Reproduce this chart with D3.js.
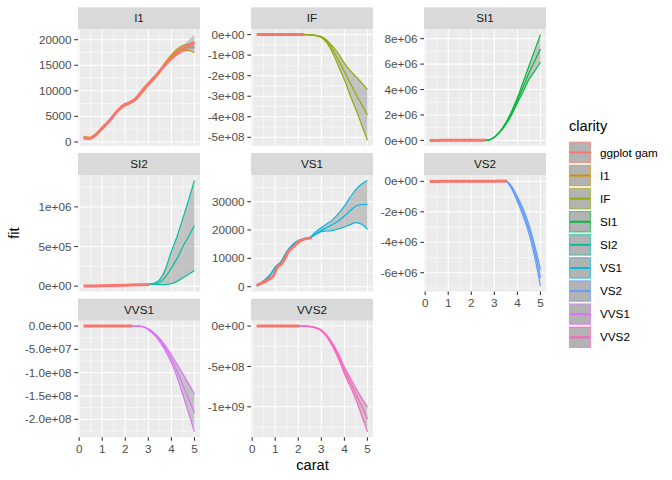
<!DOCTYPE html>
<html><head><meta charset="utf-8">
<script src="https://cdn.jsdelivr.net/npm/d3@7"></script>
<style>
body{margin:0;background:#fff}
svg{display:block}
text{font-family:"Liberation Sans",Arial,Helvetica,sans-serif}
</style>
</head><body>
<svg id="chart" width="672" height="480"></svg>
<script>
// ---------------- DATA ----------------
const clarities = ["I1","IF","SI1","SI2","VS1","VS2","VVS1","VVS2"];
const legendLabels = ["ggplot gam","I1","IF","SI1","SI2","VS1","VS2","VVS1","VVS2"];
const legendColors = ["#F8766D","#D39200","#93AA00","#00BA38","#00C19F","#00B9E3","#619CFF","#DB72FB","#FF61C3"];
const xTicks = [0,1,2,3,4,5];

// common carat grid for the per-clarity predictions
const predX = [0.2,0.5,0.75,1,1.25,1.5,1.75,2,2.25,2.5,2.75,3,3.25,3.5,3.75,4,4.25,4.5,4.75,5];

// I1
const fitI1 = [900,750,1500,2700,3850,5200,6450,7250,7750,8500,9850,11150,12350,13800,15450,16800,17850,18400,18550,18500];
const loI1  = [750,600,1350,2550,3700,5050,6300,7100,7600,8350,9700,11000,12200,13650,15300,16550,17500,17900,17850,17500];
const hiI1  = [1050,900,1650,2850,4000,5350,6600,7400,7900,8650,10000,11300,12500,13950,15650,17050,18200,18850,19150,19400];
const gamXI1 = [0.2,0.3,0.4,0.5,0.7,0.9,1.1,1.3,1.5,1.7,1.9,2.1,2.3,2.5,2.7,2.9,3.1,3.3,3.5,3.7,3.9,4.1,4.3,4.5,4.7,5.0];
const gamFitI1 = [800,700,650,760,1320,2250,3150,4100,5200,6250,7100,7500,7950,8700,9800,10900,11850,12780,13900,14950,15900,16750,17450,18100,18700,19500];
const gamLoI1  = [300,520,550,660,1220,2150,3050,4000,5100,6150,7000,7400,7850,8600,9700,10800,11750,12660,13750,14750,15620,16400,17000,17500,17900,18200];
const gamHiI1  = [1300,880,750,860,1420,2350,3250,4200,5300,6350,7200,7600,8050,8800,9900,11000,11950,12900,14050,15150,16180,17100,17900,18800,19700,21000];

// IF
const fitIF = [300,1500,3000,4500,6000,7500,8500,9500,10000,-1e6,-4e6,-1.2e7,-3.5e7,-7.5e7,-1.25e8,-1.8e8,-2.35e8,-2.9e8,-3.4e8,-3.9e8];
const loIF  = [100,1300,2800,4300,5800,7300,8300,9300,9800,-1.2e6,-5e6,-1.4e7,-4.2e7,-9.2e7,-1.55e8,-2.2e8,-2.95e8,-3.65e8,-4.4e8,-5.15e8];
const hiIF  = [500,1700,3200,4700,6200,7700,8700,9700,10200,-0.8e6,-3e6,-1.0e7,-2.8e7,-5.8e7,-9.5e7,-1.4e8,-1.75e8,-2.05e8,-2.35e8,-2.67e8];
const gamXIF = [0.2,0.7,1.2,1.7,2.27];
const gamFitIF = [500,2500,5500,9000,12000];
const gamLoIF  = [300,2300,5300,8800,11800];
const gamHiIF  = [700,2700,5700,9200,12200];

// SI1
const fitSI1 = [300,1500,3000,4500,6000,7500,8500,9500,10500,11500,3e4,2.5e5,7e5,1.32e6,2.15e6,3.15e6,4.2e6,5.3e6,6.25e6,7.18e6];
const loSI1  = [100,1300,2800,4300,5800,7300,8300,9300,10300,11300,2.8e4,2.4e5,6.7e5,1.25e6,2.0e6,2.95e6,3.85e6,4.8e6,5.45e6,6.15e6];
const hiSI1  = [500,1700,3200,4700,6200,7700,8700,9700,10700,11700,3.2e4,2.6e5,7.3e5,1.4e6,2.3e6,3.35e6,4.6e6,5.85e6,7.1e6,8.32e6];
const gamXSI1 = [0.2,0.8,1.4,2.0,2.61];
const gamFitSI1 = [400,3000,6500,10000,13000];
const gamLoSI1  = [200,2800,6300,9800,12800];
const gamHiSI1  = [600,3200,6700,10200,13200];

// SI2
const fitSI2 = [300,1300,2600,4500,6300,8000,10000,12000,14200,16500,18800,21000,3e4,5e4,1.2e5,2.3e5,3.5e5,5.0e5,6.3e5,7.65e5];
const loSI2  = [100,1100,2400,4300,6100,7800,9800,11800,14000,16300,18600,20000,2.5e4,2.0e4,2.0e4,3e4,6e4,1.05e5,1.5e5,1.98e5];
const hiSI2  = [500,1500,2800,4700,6500,8200,10200,12200,14400,16700,19000,22000,3.5e4,8.5e4,2.2e5,4.4e5,6.3e5,8.6e5,1.09e6,1.335e6];
const gamXSI2 = [0.2,0.6,1.0,1.5,2.0,2.5,3.04];
const gamFitSI2 = [300,2000,4500,8000,12000,16500,21000];
const gamLoSI2  = [100,1800,4300,7800,11800,16300,20500];
const gamHiSI2  = [500,2200,4700,8200,12200,16700,21500];

// VS1
const fitVS1 = [300,2000,3800,6800,8700,12300,14700,16200,16900,17300,18600,19870,20900,21990,23300,24920,26800,28450,29000,29050];
const loVS1  = [200,1850,3650,6650,8550,12150,14550,16050,16750,17200,18400,19400,19650,19870,20400,21040,21900,22590,22000,20230];
const hiVS1  = [400,2150,3950,6950,8850,12450,14850,16350,17050,17400,19300,20830,22200,23760,25900,28450,31500,34350,36200,37520];
const gamXVS1 = [0.19,0.45,0.71,0.93,1.04,1.14,1.29,1.43,1.58,1.79,2.01,2.23,2.44,2.59];
const gamFitVS1 = [460,1410,2580,3990,6100,7270,8220,10240,12570,14120,15740,16700,17050,17300];
const gamLoVS1  = [310,1260,2430,3840,5950,7120,8070,10090,12420,13970,15590,16550,16900,17100];
const gamHiVS1  = [610,1560,2730,4140,6250,7420,8370,10390,12720,14270,15890,16850,17200,17500];

// VS2
const fitVS2 = [300,1500,3000,4500,6000,7500,8500,9500,10500,11500,12500,2e4,5e4,2e4,-4.0e5,-1.17e6,-2.04e6,-3.14e6,-4.57e6,-6.33e6];
const loVS2  = [100,1300,2800,4300,5800,7300,8300,9300,10300,11300,12300,1.5e4,3e4,0,-4.8e5,-1.34e6,-2.28e6,-3.43e6,-4.95e6,-6.88e6];
const hiVS2  = [500,1700,3200,4700,6200,7700,8700,9700,10700,11700,12700,2.5e4,7e4,4e4,-3.2e5,-1.0e6,-1.8e6,-2.85e6,-4.2e6,-5.78e6];
const gamXVS2 = [0.2,1,2,3,3.55];
const gamFitVS2 = [300,5000,12000,17000,18000];
const gamLoVS2  = [100,4800,11800,16800,17800];
const gamHiVS2  = [500,5200,12200,17200,18200];

// VVS1
const fitVVS1 = [300,1500,3000,4500,6000,7500,8500,9500,10500,-2e5,-1e6,-7e6,-1.7e7,-3.0e7,-4.8e7,-7.0e7,-9.7e7,-1.27e8,-1.56e8,-1.86e8];
const loVVS1  = [100,1300,2800,4300,5800,7300,8300,9300,10300,-2.5e5,-1.2e6,-8e6,-1.9e7,-3.4e7,-5.4e7,-7.9e7,-1.1e8,-1.48e8,-1.87e8,-2.27e8];
const hiVVS1  = [500,1700,3200,4700,6200,7700,8700,9700,10700,-1.5e5,-8e5,-6e6,-1.5e7,-2.7e7,-4.3e7,-6.2e7,-8.2e7,-1.03e8,-1.24e8,-1.46e8];
const gamXVVS1 = [0.2,0.8,1.4,2.0,2.29];
const gamFitVVS1 = [400,3000,6500,10000,12000];
const gamLoVVS1  = [200,2800,6300,9800,11800];
const gamHiVVS1  = [600,3200,6700,10200,12200];

// VVS2
const fitVVS2 = [300,1500,3000,4500,6000,7500,8500,9500,-1e6,-5e6,-2e7,-5.5e7,-1.3e8,-2.4e8,-3.8e8,-5.5e8,-6.9e8,-8.4e8,-9.9e8,-1.15e9];
const loVVS2  = [100,1300,2800,4300,5800,7300,8300,9300,-1.2e6,-6e6,-2.3e7,-6e7,-1.4e8,-2.6e8,-4.1e8,-5.9e8,-7.45e8,-9.1e8,-1.11e9,-1.31e9];
const hiVVS2  = [500,1700,3200,4700,6200,7700,8700,9700,-0.8e6,-4e6,-1.7e7,-5e7,-1.2e8,-2.2e8,-3.5e8,-5.1e8,-6.4e8,-7.7e8,-8.9e8,-1.0e9];
const gamXVVS2 = [0.2,0.7,1.2,1.7,2.04];
const gamFitVVS2 = [400,2500,5500,8500,10500];
const gamLoVVS2  = [200,2300,5300,8300,10300];
const gamHiVVS2  = [600,2700,5700,8700,10700];

// y tick values and labels per panel
const yTicksI1 = [0,5000,10000,15000,20000];
const yLabelsI1 = ["0","5000","10000","15000","20000"];
const yTicksIF = [0,-1e8,-2e8,-3e8,-4e8,-5e8];
const yLabelsIF = ["0e+00","-1e+08","-2e+08","-3e+08","-4e+08","-5e+08"];
const yTicksSI1 = [0,2e6,4e6,6e6,8e6];
const yLabelsSI1 = ["0e+00","2e+06","4e+06","6e+06","8e+06"];
const yTicksSI2 = [0,5e5,1e6];
const yLabelsSI2 = ["0e+00","5e+05","1e+06"];
const yTicksVS1 = [0,10000,20000,30000];
const yLabelsVS1 = ["0","10000","20000","30000"];
const yTicksVS2 = [0,-2e6,-4e6,-6e6];
const yLabelsVS2 = ["0e+00","-2e+06","-4e+06","-6e+06"];
const yTicksVVS1 = [0,-5e7,-1e8,-1.5e8,-2e8];
const yLabelsVVS1 = ["0.0e+00","-5.0e+07","-1.0e+08","-1.5e+08","-2.0e+08"];
const yTicksVVS2 = [0,-5e8,-1e9];
const yLabelsVVS2 = ["0e+00","-5e+08","-1e+09"];

// ---------------- BUILD TABLE ----------------
const zip3 = (xs, f, lo, hi) => xs.map((x,i)=>({x, y:f[i], lo:lo[i], hi:hi[i]}));
const panels = [
  {name:"I1", pred:zip3(predX,fitI1,loI1,hiI1), gam:zip3(gamXI1,gamFitI1,gamLoI1,gamHiI1), ticks:yTicksI1, labels:yLabelsI1},
  {name:"IF", pred:zip3(predX,fitIF,loIF,hiIF), gam:zip3(gamXIF,gamFitIF,gamLoIF,gamHiIF), ticks:yTicksIF, labels:yLabelsIF},
  {name:"SI1", pred:zip3(predX,fitSI1,loSI1,hiSI1), gam:zip3(gamXSI1,gamFitSI1,gamLoSI1,gamHiSI1), ticks:yTicksSI1, labels:yLabelsSI1},
  {name:"SI2", pred:zip3(predX,fitSI2,loSI2,hiSI2), gam:zip3(gamXSI2,gamFitSI2,gamLoSI2,gamHiSI2), ticks:yTicksSI2, labels:yLabelsSI2},
  {name:"VS1", pred:zip3(predX,fitVS1,loVS1,hiVS1), gam:zip3(gamXVS1,gamFitVS1,gamLoVS1,gamHiVS1), ticks:yTicksVS1, labels:yLabelsVS1},
  {name:"VS2", pred:zip3(predX,fitVS2,loVS2,hiVS2), gam:zip3(gamXVS2,gamFitVS2,gamLoVS2,gamHiVS2), ticks:yTicksVS2, labels:yLabelsVS2},
  {name:"VVS1", pred:zip3(predX,fitVVS1,loVVS1,hiVVS1), gam:zip3(gamXVVS1,gamFitVVS1,gamLoVVS1,gamHiVVS1), ticks:yTicksVVS1, labels:yLabelsVVS1},
  {name:"VVS2", pred:zip3(predX,fitVVS2,loVVS2,hiVVS2), gam:zip3(gamXVVS2,gamFitVVS2,gamLoVVS2,gamHiVVS2), ticks:yTicksVVS2, labels:yLabelsVVS2}
];

// ---------------- LAYOUT ----------------
const svg = d3.select("#chart");
const panelW = 122, colPitch = 173, left0 = 78;
const stripH = 22, panelH = 116.4, rowPitch = 145.73, top0 = 7.3;
const tickLen = 3.67;
const fontSmall = 11.7, fontBig = 14.67;
const ribbonFill = "#999999", ribbonOpacity = 0.5;

// shared x scale domain with ggplot 5% expansion
const allX = panels.flatMap(p => p.pred.map(d=>d.x).concat(p.gam.map(d=>d.x)));
const xmin = d3.min(allX), xmax = d3.max(allX), xpad = (xmax-xmin)*0.05;

const curve = d3.curveMonotoneX;

panels.forEach((p, i) => {
  const col = i % 3, row = Math.floor(i/3);
  const L = left0 + col*colPitch;
  const T = top0 + row*rowPitch;
  const PT = T + stripH, PB = PT + panelH;
  const color = legendColors[clarities.indexOf(p.name) + 1];

  const x = d3.scaleLinear().domain([xmin - xpad, xmax + xpad]).range([L, L+panelW]);
  const allY = p.pred.flatMap(d=>[d.lo,d.hi,d.y]).concat(p.gam.flatMap(d=>[d.lo,d.hi,d.y]));
  const ymin = d3.min(allY), ymax = d3.max(allY), ypad = (ymax-ymin)*0.05;
  const y = d3.scaleLinear().domain([ymin-ypad, ymax+ypad]).range([PB, PT]);

  const g = svg.append("g");
  // strip
  g.append("rect").attr("x", L).attr("y", T).attr("width", panelW).attr("height", stripH).attr("fill", "#D9D9D9");
  g.append("text").attr("x", L + panelW/2).attr("y", T + stripH/2 + 4.1)
    .attr("text-anchor","middle").attr("font-size", fontSmall).attr("fill","#1A1A1A").text(p.name);
  // panel bg
  g.append("rect").attr("x", L).attr("y", PT).attr("width", panelW).attr("height", panelH).attr("fill", "#EBEBEB");

  // grid
  const yt = p.ticks.slice().sort((a,b)=>a-b);
  const ystep = yt[1]-yt[0];
  const yMinor = [];
  for (let k=-1;k<yt.length;k++){ const v = yt[0] + (k+0.5)*ystep; if (v>y.domain()[0] && v<y.domain()[1]) yMinor.push(v); }
  const xMinor = [];
  for (let k=-1;k<xTicks.length;k++){ const v = xTicks[0] + (k+0.5); if (v>x.domain()[0] && v<x.domain()[1]) xMinor.push(v); }
  const grid = g.append("g");
  yMinor.forEach(v => grid.append("line").attr("x1",L).attr("x2",L+panelW).attr("y1",y(v)).attr("y2",y(v)).attr("stroke","#fff").attr("stroke-width",0.53));
  xMinor.forEach(v => grid.append("line").attr("y1",PT).attr("y2",PB).attr("x1",x(v)).attr("x2",x(v)).attr("stroke","#fff").attr("stroke-width",0.53));
  p.ticks.forEach(v => grid.append("line").attr("x1",L).attr("x2",L+panelW).attr("y1",y(v)).attr("y2",y(v)).attr("stroke","#fff").attr("stroke-width",1.07));
  xTicks.forEach(v => grid.append("line").attr("y1",PT).attr("y2",PB).attr("x1",x(v)).attr("x2",x(v)).attr("stroke","#fff").attr("stroke-width",1.07));

  // clip
  const cid = "clip"+i;
  svg.append("clipPath").attr("id", cid).append("rect").attr("x",L).attr("y",PT).attr("width",panelW).attr("height",panelH);
  const data = g.append("g").attr("clip-path", `url(#${cid})`);

  const area = d3.area().x(d=>x(d.x)).y0(d=>y(d.lo)).y1(d=>y(d.hi)).curve(curve);
  const line = key => d3.line().x(d=>x(d.x)).y(d=>y(d[key])).curve(curve);

  // clarity prediction ribbon + lines
  data.append("path").attr("d", area(p.pred)).attr("fill", ribbonFill).attr("fill-opacity", ribbonOpacity);
  ["lo","hi","y"].forEach(k => data.append("path").attr("d", line(k)(p.pred)).attr("fill","none").attr("stroke", color).attr("stroke-width",1.2));
  // ggplot gam ribbon + line
  data.append("path").attr("d", area(p.gam)).attr("fill", ribbonFill).attr("fill-opacity", ribbonOpacity);
  data.append("path").attr("d", line("y")(p.gam)).attr("fill","none").attr("stroke", legendColors[0]).attr("stroke-width",3);

  // y axis
  const yAxis = g.append("g");
  p.ticks.forEach((v,k) => {
    yAxis.append("line").attr("x1",L-tickLen).attr("x2",L).attr("y1",y(v)).attr("y2",y(v)).attr("stroke","#333333").attr("stroke-width",1.07);
    yAxis.append("text").attr("x", L-tickLen-2.9).attr("y", y(v)+4.1).attr("text-anchor","end")
      .attr("font-size", fontSmall).attr("fill","#4D4D4D").text(p.labels[k]);
  });

  // x axis on bottom panels of each column
  const hasBelow = panels[i+3] !== undefined;
  if (!hasBelow) {
    const xAxis = g.append("g");
    xTicks.forEach(v => {
      xAxis.append("line").attr("x1",x(v)).attr("x2",x(v)).attr("y1",PB).attr("y2",PB+tickLen).attr("stroke","#333333").attr("stroke-width",1.07);
      xAxis.append("text").attr("x",x(v)).attr("y",PB+tickLen+2.9+9.2).attr("text-anchor","middle")
        .attr("font-size", fontSmall).attr("fill","#4D4D4D").text(v);
    });
  }
});

// axis titles
svg.append("text").attr("x", 312.5).attr("y", 469.5).attr("text-anchor","middle").attr("font-size", fontBig).attr("fill","#000").text("carat");
svg.append("text").attr("transform","translate(19,233) rotate(-90)").attr("text-anchor","middle").attr("font-size", fontBig).attr("fill","#000").text("fit");

// legend
const lg = svg.append("g");
lg.append("text").attr("x", 569).attr("y", 131).attr("font-size", fontBig).attr("fill","#000").text("clarity");
legendLabels.forEach((lab, k) => {
  const ky = 141.7 + k*23.1;
  lg.append("rect").attr("x",569.5).attr("y",ky+0.5).attr("width",21).attr("height",20.5).attr("fill","#F2F2F2");
  lg.append("rect").attr("x",569.5).attr("y",ky+0.5).attr("width",21).attr("height",20.5)
    .attr("fill","#999999").attr("fill-opacity",0.7).attr("stroke", legendColors[k]).attr("stroke-opacity",0.6).attr("stroke-width",1.2);
  lg.append("line").attr("x1",570).attr("x2",590).attr("y1",ky+10.75).attr("y2",ky+10.75).attr("stroke",legendColors[k]).attr("stroke-width",2);
  lg.append("text").attr("x",600).attr("y",ky+10.75+4.1).attr("font-size",fontSmall).attr("fill","#000").text(lab);
});
</script>
</body></html>
